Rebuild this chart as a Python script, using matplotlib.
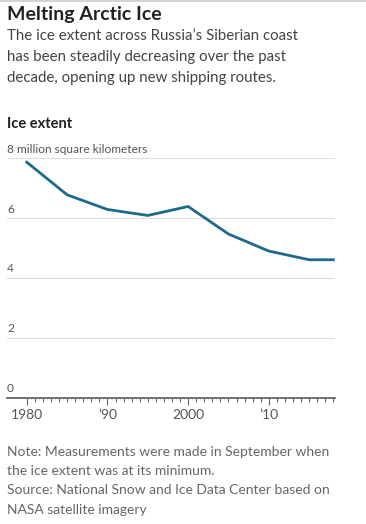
import matplotlib
matplotlib.use("Agg")
import matplotlib.pyplot as plt
from matplotlib.lines import Line2D
from matplotlib.transforms import blended_transform_factory

years = [1980, 1985, 1990, 1995, 2000, 2005, 2010, 2015, 2018]
extent = [7.87, 6.78, 6.29, 6.09, 6.39, 5.47, 4.90, 4.61, 4.61]
y_ticks = [0, 2, 4, 6, 8]
y_labels = ["0", "2", "4", "6", "8 million square kilometers"]
x_ticks = [1980, 1990, 2000, 2010]
x_labels = ["1980", "\u201990", "2000", "\u201910"]

plt.rcParams["font.family"] = ["Lato", "DejaVu Sans"]

W, H = 366, 524
fig = plt.figure(figsize=(W / 100, H / 100), dpi=100)
fig.patch.set_facecolor("white")

def fy(px):
    return 1 - px / H

def fx(px):
    return px / W

# thin rule at the very top
fig.add_artist(Line2D([0, 1], [fy(0.5), fy(0.5)], color="#cccccc", lw=1.2))

fig.text(fx(7), fy(20), "Melting Arctic Ice", fontsize=14, fontweight="bold", color="#222222")
sub = ["The ice extent across Russia\u2019s Siberian coast",
       "has been steadily decreasing over the past",
       "decade, opening up new shipping routes."]
for i, line in enumerate(sub):
    fig.text(fx(7), fy(40 + i * 21), line, fontsize=10.8, color="#444444")
fig.text(fx(7), fy(128), "Ice extent", fontsize=10.5, fontweight="bold", color="#222222")

ax = fig.add_axes([fx(7), fy(397.7), fx(335) - fx(7), fy(158.3) - fy(397.7)])
ax.plot(years, extent, color="#1d6a8a", lw=2, solid_joinstyle="round", clip_on=False)
ax.set_xlim(1977.55, 2018.2)
ax.set_ylim(0, 8)

for s in ["top", "right", "left"]:
    ax.spines[s].set_visible(False)
ax.spines["bottom"].set_color("#666666")
ax.spines["bottom"].set_linewidth(1.3)

for v in y_ticks[1:]:
    ax.axhline(v, color="#dddddd", lw=0.8, zorder=0)

trans = blended_transform_factory(ax.transAxes, ax.transData)
for v, lab in zip(y_ticks, y_labels):
    ax.text(0.0, v + 0.12, lab, transform=trans, fontsize=8.6, color="#555555",
            va="bottom", ha="left")
ax.set_yticks([])

ax.set_xticks(x_ticks)
ax.set_xticklabels(x_labels, fontsize=10, color="#555555")
ax.set_xticks(list(range(1980, 2019)), minor=True)
ax.tick_params(axis="x", which="major", length=5, width=0.8, color="#666666", pad=3)
ax.tick_params(axis="x", which="minor", length=3, width=0.8, color="#666666")

notes = ["Note: Measurements were made in September when",
         "the ice extent was at its minimum.",
         "Source: National Snow and Ice Data Center based on",
         "NASA satellite imagery"]
for i, line in enumerate(notes):
    fig.text(fx(7), fy(456 + i * 19.2), line, fontsize=10, color="#666666")

fig.savefig("out.png", dpi=100)
